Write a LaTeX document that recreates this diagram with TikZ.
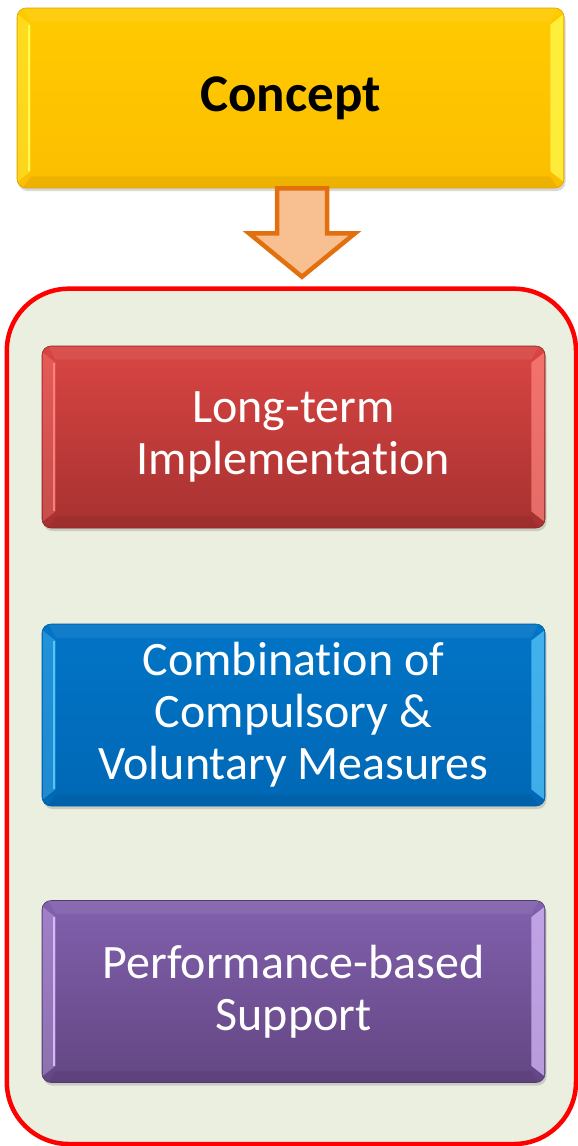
\documentclass[tikz,border=0pt]{standalone}
\usepackage{fontspec}
\setmainfont{Carlito}[Ligatures=NoCommon]
\usetikzlibrary{calc,shadows}
\definecolor{panelfill}{HTML}{EBEFDF}
\definecolor{panelline}{HTML}{FF0000}
\definecolor{arrowfill}{HTML}{F8BF90}
\definecolor{arrowline}{HTML}{E3700F}
\definecolor{yelTop}{HTML}{FFCA00}
\definecolor{yelBot}{HTML}{FCBE00}
\definecolor{yelLight}{HTML}{FFFF55}
\definecolor{yelLine}{HTML}{D9A400}
\definecolor{redTop}{HTML}{D94543}
\definecolor{redBot}{HTML}{A63130}
\definecolor{redLight}{HTML}{FF8580}
\definecolor{redLine}{HTML}{8E2826}
\definecolor{bluTop}{HTML}{0274C6}
\definecolor{bluBot}{HTML}{0068B5}
\definecolor{bluLight}{HTML}{5CCBFF}
\definecolor{bluLine}{HTML}{005A9C}
\definecolor{purTop}{HTML}{8160AD}
\definecolor{purBot}{HTML}{634683}
\definecolor{purLight}{HTML}{DCC0FF}
\definecolor{purLine}{HTML}{553A72}
\newcommand\bevelfx[2]{%
  % left strip
  \fill[#2, opacity=0.35] ($(#1.north west)+(1.2,-7)$) -- ($(#1.north west)+(14,-17)$)
     -- ($(#1.south west)+(14,17)$) -- ($(#1.south west)+(1.2,7)$) -- cycle;
  \draw[#2, line width=2.4pt, opacity=0.9] ($(#1.north west)+(12.5,-17)$) -- ($(#1.south west)+(12.5,17)$);
  % right strip
  \fill[#2, opacity=0.7] ($(#1.north east)+(-1.2,-7)$) -- ($(#1.north east)+(-14,-17)$)
     -- ($(#1.south east)+(-14,17)$) -- ($(#1.south east)+(-1.2,7)$) -- cycle;
  % top band
  \fill[white, opacity=0.07] ($(#1.north west)+(7,-1)$) -- ($(#1.north east)+(-7,-1)$)
     -- ($(#1.north east)+(-14,-14)$) -- ($(#1.north west)+(14,-14)$) -- cycle;
  % bottom band
  \fill[black, opacity=0.06] ($(#1.south west)+(7,1)$) -- ($(#1.south east)+(-7,1)$)
     -- ($(#1.south east)+(-14,12)$) -- ($(#1.south west)+(14,12)$) -- cycle;
}
\begin{document}
\begin{tikzpicture}[x=1pt,y=1pt,
  panelbox/.style={draw=panelline, fill=panelfill, line width=4.5pt, rounded corners=62pt,
    minimum width=569.2pt, minimum height=855.3pt, inner sep=0pt},
  bevelbox/.style={rounded corners=9pt, line width=0.6pt, align=center, inner sep=0pt,
    text=white, font=\fontsize{48}{52}\selectfont,
    minimum width=503pt, minimum height=182pt,
    drop shadow={opacity=0.3, shadow xshift=1.5pt, shadow yshift=-3pt}},
  conceptbox/.style={bevelbox, minimum width=547pt, minimum height=180pt, text=black,
    font=\fontsize{53}{60}\selectfont\bfseries,
    top color=yelTop, bottom color=yelBot, draw=yelLine},
  blockarrow/.style={draw=arrowline, fill=arrowfill, line width=4.5pt, line join=miter}
]
\useasboundingbox (0,0) rectangle (578,-1146);
\fill[white] (0,0) rectangle (578,-1146);

% panel
\node[panelbox] (panel) at (291.4,-716.35) {};

% concept
\node[conceptbox] (concept) at (290.5,-98) {\raisebox{-2.5pt}{Concept}};
\bevelfx{concept}{yelLight}

% items
\node[bevelbox, top color=redTop, bottom color=redBot, draw=redLine] (longterm) at (293.5,-437)
  {\raisebox{-2.5pt}{\parbox{480pt}{\centering Long-term\\Implementation}}};
\bevelfx{longterm}{redLight}

\node[bevelbox, top color=bluTop, bottom color=bluBot, draw=bluLine] (combination) at (293.5,-715)
  {Combination of\\Compulsory \&\\Voluntary Measures};
\bevelfx{combination}{bluLight}

\node[bevelbox, top color=purTop, bottom color=purBot, draw=purLine] (performance) at (293.5,-991.5)
  {Performance-based\\Support};
\bevelfx{performance}{purLight}

% block arrow from concept to panel
\coordinate (atop) at ($(concept.south)+(11.5,0)$);
\coordinate (atip) at ($(atop |- panel.north)+(0,9.7)$);
\draw[blockarrow] ($(atop)+(-25,0)$) -- ($(atop)+(25,0)$) -- ($(atop)+(25,-45)$)
  -- ($(atop)+(53,-45)$) -- (atip) -- ($(atop)+(-53,-45)$) -- ($(atop)+(-25,-45)$) -- cycle;
\end{tikzpicture}
\end{document}
